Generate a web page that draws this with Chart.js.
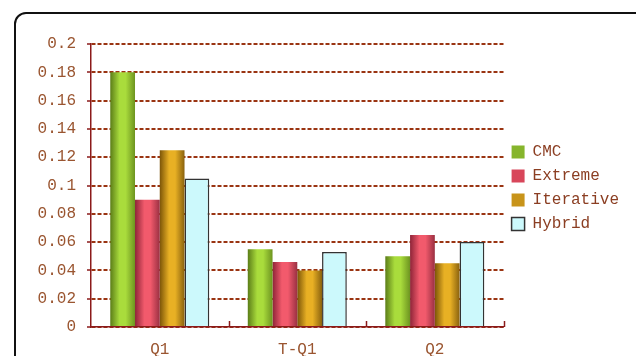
<!DOCTYPE html>
<html>
<head>
<meta charset="utf-8">
<script src="https://cdn.jsdelivr.net/npm/chart.js@4"></script>
<style>
  html,body{margin:0;padding:0;background:#fff;overflow:hidden}
  #wrap{position:relative;width:636px;height:356px}
  #frame{position:absolute;left:14px;top:12px;width:640px;height:360px;border:2px solid #111;border-radius:12px;box-sizing:border-box}
  #c{position:absolute;left:0;top:0}
</style>
</head>
<body>
<div id="wrap">
  <div id="frame"></div>
  <canvas id="c" width="636" height="356"></canvas>
</div>
<script>
const categories=["Q1","T-Q1","Q2"]
const seriesNames=["CMC","Extreme","Iterative","Hybrid"]
const cmc=[0.18,0.055,0.050]
const extreme=[0.09,0.046,0.065]
const iterative=[0.125,0.040,0.045]
const hybrid=[0.105,0.053,0.060]
const yTicks=[0,0.02,0.04,0.06,0.08,0.1,0.12,0.14,0.16,0.18,0.2]

// gradient stops per series: edge, bright, edge
const shades=[
    ["#5b7d18","#a9dc3c","#6d9420"],
    ["#8e2438","#f25a6c","#9a3042"],
    ["#7c5508","#e8b024","#8a620e"],
    null
]
const solid=["#86b52c","#d8465a","#c8941a","#ccf9fc"]

const fontFam="'Liberation Mono', monospace"
const txt="#9a5530"
const axisRed="#8b1a1a"

const gradPlugin={
    id:"grad",
    beforeDatasetsDraw(chart){
        const ctx=chart.ctx
        chart.data.datasets.forEach((ds,di)=>{
            const s=shades[di]
            if(!s) return
            chart.getDatasetMeta(di).data.forEach(el=>{
                const x0=el.x-el.width/2, x1=el.x+el.width/2
                const g=ctx.createLinearGradient(x0,0,x1,0)
                g.addColorStop(0,s[0])
                g.addColorStop(0.38,s[1])
                g.addColorStop(0.62,s[1])
                g.addColorStop(1,s[2])
                el.options=Object.assign({},el.options,{backgroundColor:g})
            })
        })
    },
    afterDraw(chart){
        // small upward ticks at category boundaries on the x axis
        const xs=chart.scales.x
        const ctx=chart.ctx
        const step=(xs.right-xs.left)/categories.length
        ctx.save()
        ctx.strokeStyle=axisRed
        ctx.lineWidth=1.5
        for(let i=1;i<=categories.length;i++){
            const x=Math.round(xs.getPixelForValue(i-1)+step/2)+0.5
            ctx.beginPath()
            ctx.moveTo(x,xs.top)
            ctx.lineTo(x,xs.top-6)
            ctx.stroke()
        }
        ctx.restore()
    }
}

const data=[cmc,extreme,iterative,hybrid]

new Chart(document.getElementById("c"),{
    type:"bar",
    data:{
        labels:categories,
        datasets:seriesNames.map((n,i)=>({
            label:n,
            data:data[i],
            backgroundColor:solid[i],
            borderColor:i===3?"#333333":"rgba(0,0,0,0)",
            borderWidth:i===3?1.5:0,
            categoryPercentage:0.72,
            barPercentage:1.0
        }))
    },
    options:{
        responsive:false,
        animation:false,
        layout:{padding:{left:0,top:44,right:7,bottom:0}},
        plugins:{
            legend:{
                position:"right",
                align:"start",
                title:{display:true,text:"",font:{size:10},padding:{top:80,bottom:0}},
                labels:{
                    boxWidth:13,
                    boxHeight:13,
                    padding:8,
                    color:"#8b3e22",
                    font:{family:fontFam,size:16}
                }
            },
            tooltip:{enabled:false}
        },
        scales:{
            x:{
                grid:{display:false,drawTicks:false},
                border:{display:true,color:axisRed,width:1.5},
                ticks:{color:txt,font:{family:fontFam,size:16},padding:13},
                afterFit(scale){scale.height=29}
            },
            y:{
                min:0,
                max:0.2,
                afterBuildTicks(scale){scale.ticks=yTicks.map(v=>({value:v}))},
                ticks:{
                    color:txt,
                    font:{family:fontFam,size:16},
                    padding:11,
                    callback:(v)=>String(+v.toFixed(2))
                },
                grid:{
                    color:"#9a3412",
                    lineWidth:2,
                    tickLength:4,
                    tickColor:axisRed,
                    tickBorderDash:[],
                    tickWidth:1.5
                },
                border:{display:true,color:axisRed,width:1.5,dash:[4,2]},
                afterFit(scale){scale.width=91}
            }
        }
    },
    plugins:[gradPlugin]
})
</script>
</body>
</html>
